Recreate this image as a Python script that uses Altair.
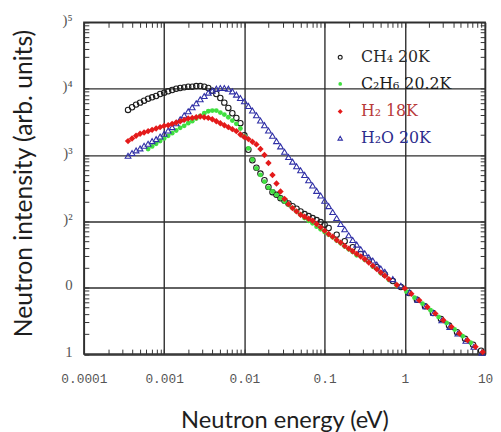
import altair as alt
import pandas as pd

# ---------------- data (log10 values) ----------------
# CH4 20K (open black circles)
ch4_log_energy = [-3.45, -3.40, -3.35, -3.30, -3.25, -3.20, -3.15, -3.10, -3.05, -3.00,
                  -2.95, -2.90, -2.85, -2.80, -2.75, -2.70, -2.65, -2.60, -2.55, -2.50,
                  -2.45, -2.40, -2.35, -2.30, -2.25, -2.20, -2.15, -2.10, -2.05, -2.00,
                  -1.95, -1.90, -1.85, -1.80, -1.75, -1.70, -1.65, -1.60, -1.55, -1.50,
                  -1.45, -1.40, -1.35, -1.30, -1.25, -1.20, -1.15, -1.10, -1.05, -1.00,
                  -0.95, -0.85, -0.75, -0.65, -0.55, -0.45, -0.35, -0.25, -0.15, -0.05,
                  0.05, 0.15, 0.25, 0.35, 0.45, 0.55, 0.65, 0.75, 0.85, 0.95]
ch4_log_intensity = [3.68, 3.72, 3.76, 3.79, 3.82, 3.85, 3.87, 3.89, 3.92, 3.94,
                     3.96, 3.98, 4.00, 4.01, 4.02, 4.03, 4.03, 4.04, 4.04, 4.03,
                     4.01, 3.97, 3.92, 3.86, 3.79, 3.71, 3.63, 3.56, 3.48, 3.30,
                     3.08, 2.92, 2.81, 2.72, 2.62, 2.52, 2.44, 2.40, 2.35, 2.31,
                     2.27, 2.23, 2.19, 2.15, 2.11, 2.08, 2.05, 2.02, 1.99, 1.95,
                     1.90, 1.80, 1.70, 1.61, 1.51, 1.41, 1.31, 1.20, 1.10, 1.01,
                     0.92, 0.82, 0.72, 0.62, 0.53, 0.43, 0.33, 0.23, 0.14, 0.05]

# C2H6 20.2K (small green dots)
c2h6_log_energy = [-3.20, -3.15, -3.10, -3.05, -3.00, -2.95, -2.90, -2.85, -2.80, -2.75,
                   -2.70, -2.65, -2.60, -2.55, -2.50, -2.45, -2.40, -2.35, -2.30, -2.25,
                   -2.20, -2.15, -2.10, -2.05, -2.00, -1.95, -1.90, -1.85, -1.80, -1.75,
                   -1.70, -1.65, -1.60, -1.55, -1.50, -1.45, -1.40, -1.35, -1.30, -1.25,
                   -1.20, -1.15, -1.10, -1.05, -1.00,
                   -0.95, -0.90, -0.85, -0.80, -0.75, -0.70, -0.65, -0.60, -0.50, -0.40,
                   -0.30, -0.20, -0.10, 0.02, 0.12, 0.22, 0.32, 0.42, 0.52, 0.62, 0.72, 0.82]
c2h6_log_intensity = [3.09, 3.13, 3.17, 3.21, 3.25, 3.29, 3.33, 3.37, 3.41, 3.44,
                      3.48, 3.51, 3.55, 3.59, 3.63, 3.66, 3.67, 3.67, 3.64, 3.61,
                      3.57, 3.52, 3.47, 3.40, 3.28, 3.10, 2.93, 2.80, 2.70, 2.60,
                      2.51, 2.45, 2.40, 2.35, 2.30, 2.25, 2.20, 2.15, 2.10, 2.05,
                      2.01, 1.97, 1.92, 1.88, 1.84,
                      1.80, 1.76, 1.71, 1.67, 1.62, 1.58, 1.54, 1.49, 1.42, 1.32,
                      1.22, 1.12, 1.03, 0.94, 0.85, 0.76, 0.66, 0.56, 0.47, 0.37, 0.27, 0.17]

# H2 18K (red diamonds)
h2_log_energy = [-3.45, -3.40, -3.35, -3.30, -3.25, -3.20, -3.15, -3.10, -3.05, -3.00,
                 -2.95, -2.90, -2.85, -2.80, -2.75, -2.70, -2.65, -2.60, -2.55, -2.50,
                 -2.45, -2.40, -2.35, -2.30, -2.25, -2.20, -2.15, -2.10, -2.05, -2.00,
                 -1.95, -1.90, -1.85, -1.80, -1.75, -1.70, -1.65, -1.60, -1.55, -1.50,
                 -1.45, -1.40, -1.35, -1.30, -1.25, -1.20, -1.15, -1.10, -1.05, -1.00,
                 -0.95, -0.90, -0.85, -0.80, -0.75, -0.70, -0.65, -0.60, -0.55, -0.50,
                 -0.45, -0.40, -0.35, -0.30, -0.25, -0.20, -0.10, 0.00, 0.08, 0.18,
                 0.28, 0.38, 0.48, 0.58, 0.68, 0.78, 0.88, 0.97]
h2_log_intensity = [3.21, 3.25, 3.29, 3.32, 3.34, 3.36, 3.38, 3.40, 3.42, 3.44,
                    3.45, 3.47, 3.49, 3.51, 3.53, 3.55, 3.56, 3.57, 3.58, 3.57,
                    3.56, 3.54, 3.51, 3.48, 3.45, 3.42, 3.39, 3.36, 3.31, 3.27,
                    3.24, 3.20, 3.16, 3.09, 3.00, 2.88, 2.70, 2.57, 2.45, 2.34,
                    2.26, 2.20, 2.15, 2.10, 2.07, 2.04, 2.01, 1.96, 1.91, 1.86,
                    1.81, 1.77, 1.72, 1.68, 1.63, 1.59, 1.55, 1.51, 1.47, 1.43,
                    1.38, 1.33, 1.28, 1.23, 1.18, 1.13, 1.04, 0.99, 0.91, 0.81,
                    0.71, 0.61, 0.51, 0.41, 0.31, 0.21, 0.11, 0.03]

# H2O 20K (open blue triangles)
h2o_log_energy = [-3.45, -3.40, -3.35, -3.30, -3.25, -3.20, -3.15, -3.10, -3.05, -3.00,
                  -2.95, -2.90, -2.85, -2.80, -2.75, -2.70, -2.65, -2.60, -2.55, -2.50,
                  -2.45, -2.40, -2.35, -2.30, -2.25, -2.20, -2.15, -2.10, -2.05, -2.00,
                  -1.95, -1.90, -1.85, -1.80, -1.75, -1.70, -1.65, -1.60, -1.55, -1.50,
                  -1.45, -1.40, -1.35, -1.30, -1.25, -1.20, -1.15, -1.10, -1.05, -1.00,
                  -0.95, -0.90, -0.85, -0.80, -0.75, -0.70, -0.65, -0.60, -0.55, -0.50,
                  -0.45, -0.40, -0.35, -0.30, -0.25,
                  -0.15, -0.05, 0.06, 0.16, 0.26, 0.36, 0.46, 0.56, 0.66, 0.76, 0.86, 0.96]
h2o_log_intensity = [2.99, 3.03, 3.07, 3.10, 3.14, 3.17, 3.21, 3.24, 3.28, 3.32,
                     3.37, 3.42, 3.48, 3.54, 3.60, 3.66, 3.72, 3.78, 3.84, 3.89,
                     3.94, 3.97, 4.00, 4.01, 4.01, 4.00, 3.96, 3.91, 3.86, 3.81,
                     3.74, 3.67, 3.60, 3.52, 3.45, 3.37, 3.29, 3.21, 3.13, 3.05,
                     2.97, 2.90, 2.83, 2.77, 2.70, 2.62, 2.54, 2.46, 2.39, 2.31,
                     2.23, 2.14, 2.05, 1.96, 1.88, 1.79, 1.72, 1.65, 1.58, 1.52,
                     1.46, 1.41, 1.35, 1.29, 1.24,
                     1.13, 1.03, 0.93, 0.82, 0.72, 0.62, 0.51, 0.41, 0.31, 0.20, 0.11, 0.02]

series_labels = ["CH\u2084 20K", "C\u2082H\u2086 20.2K", "H\u2082 18K", "H\u2082O 20K"]

x_major = [0.0001, 0.001, 0.01, 0.1, 1, 10]
y_major = [1, 10, 100, 1000, 10000, 100000]
x_minor = [m * 10.0 ** p for p in range(-4, 1) for m in range(1, 10)] + [10]
y_minor = [m * 10.0 ** p for p in range(0, 5) for m in range(1, 10)] + [100000]


def table(log_e, log_i, name):
    return pd.DataFrame({
        "energy": [10 ** v for v in log_e],
        "intensity": [10 ** v for v in log_i],
        "series": name,
    })


ch4 = table(ch4_log_energy, ch4_log_intensity, series_labels[0])
c2h6 = table(c2h6_log_energy, c2h6_log_intensity, series_labels[1])
h2 = table(h2_log_energy, h2_log_intensity, series_labels[2])
h2o = table(h2o_log_energy, h2o_log_intensity, series_labels[3])
all_df = pd.concat([ch4, c2h6, h2, h2o], ignore_index=True)

x_scale = alt.Scale(type="log", domain=[0.0001, 10], nice=False)
y_scale = alt.Scale(type="log", domain=[1, 100000], nice=False)

GRID = "#2e2e2e"
LABEL = "#555555"

x_label_expr = ("datum.value > 5 ? '10' : datum.value > 0.5 ? '1' : datum.value > 0.05 ? '0.1' : "
                "datum.value > 0.005 ? '0.01' : datum.value > 0.0005 ? '0.001' : '0.0001'")
y_label_expr = ("datum.value > 50000 ? ')\u2075' : datum.value > 5000 ? ')\u2074' : "
                "datum.value > 500 ? ')\u00b3' : datum.value > 50 ? ')\u00b2' : "
                "datum.value > 5 ? '0' : '1'")

major = alt.Chart(all_df).mark_point(opacity=0).encode(
    x=alt.X("energy:Q", scale=x_scale, axis=alt.Axis(
        orient="bottom", values=x_major, grid=True, gridColor=GRID, gridWidth=1.4,
        gridOpacity=1, domain=False, ticks=False, tickSize=0, labelFlush=False,
        labelOverlap=False, labelPadding=19, labelFont="Liberation Mono",
        labelFontSize=13, labelColor=LABEL, labelExpr=x_label_expr,
        title="Neutron energy (eV)", titleFont="Lato", titleFontSize=24,
        titleFontWeight="normal", titleColor="#1e1e1e", titleY=75,
        titleBaseline="alphabetic")),
    y=alt.Y("intensity:Q", scale=y_scale, axis=alt.Axis(
        orient="left", values=y_major, grid=True, gridColor=GRID, gridWidth=1.4,
        gridOpacity=1, domain=False, ticks=False, tickSize=0, labelOverlap=False,
        labelPadding=12, labelFont="Liberation Serif", labelFontSize=15,
        labelColor=LABEL, labelOffset=-3, labelExpr=y_label_expr,
        title="Neutron intensity (arb. units)", titleFont="Lato", titleFontSize=25,
        titleFontWeight="normal", titleColor="#1e1e1e", titleX=-61, titleY=163,
        titleBaseline="middle")),
)

minor_kw = dict(grid=False, domain=False, labels=False, ticks=True, tickSize=5,
                tickColor="#333333", tickWidth=1, offset=-5, title="")

minor_bl = alt.Chart(all_df).mark_point(opacity=0).encode(
    x=alt.X("energy:Q", scale=x_scale, axis=alt.Axis(orient="bottom", values=x_minor, **minor_kw)),
    y=alt.Y("intensity:Q", scale=y_scale, axis=alt.Axis(orient="left", values=y_minor, **minor_kw)),
)
minor_tr = alt.Chart(all_df).mark_point(opacity=0).encode(
    x=alt.X("energy:Q", scale=x_scale, axis=alt.Axis(orient="top", values=x_minor, **minor_kw)),
    y=alt.Y("intensity:Q", scale=y_scale, axis=alt.Axis(orient="right", values=y_minor, **minor_kw)),
)

STYLES = {
    series_labels[0]: dict(shape="circle", filled=False, color="#1c1c1c", size=30, strokeWidth=1.1),
    series_labels[1]: dict(shape="circle", filled=True, color="#40e040", size=24, strokeWidth=0),
    series_labels[2]: dict(shape="diamond", filled=True, color="#e41a1a", size=42, strokeWidth=0),
    series_labels[3]: dict(shape="triangle-up", filled=False, color="#2f2fa6", size=34, strokeWidth=1.1),
}


def series_layer(df, name):
    return alt.Chart(df).mark_point(opacity=1, **STYLES[name]).encode(
        x=alt.X("energy:Q", scale=x_scale, axis=None),
        y=alt.Y("intensity:Q", scale=y_scale, axis=None),
    )


layers = [major, minor_bl, minor_tr,
          series_layer(ch4, series_labels[0]),
          series_layer(c2h6, series_labels[1]),
          series_layer(h2o, series_labels[3]),
          series_layer(h2, series_labels[2])]

# manual legend (inside the plot, top right)
legend_text_colors = ["#2a2a2a", "#1a1a1a", "#b83a3a", "#2c2c8c"]
legend_rows_y = [35.5, 62.5, 90.5, 117.5]
LEGEND_SYMBOL = {
    series_labels[0]: dict(shape="circle", filled=False, color="#1c1c1c", size=16, strokeWidth=1.1),
    series_labels[1]: dict(shape="circle", filled=True, color="#40e040", size=14, strokeWidth=0),
    series_labels[2]: dict(shape="diamond", filled=True, color="#e41a1a", size=26, strokeWidth=0),
    series_labels[3]: dict(shape="triangle-up", filled=False, color="#2f2fa6", size=20, strokeWidth=1.1),
}
one = pd.DataFrame({"k": [0]})
for name, tcol, ry in zip(series_labels, legend_text_colors, legend_rows_y):
    layers.append(alt.Chart(one).mark_point(opacity=1, **LEGEND_SYMBOL[name]).encode(
        x=alt.value(260), y=alt.value(ry)))
    layers.append(alt.Chart(one).mark_text(
        align="left", baseline="middle", font="DejaVu Serif", fontSize=16,
        color=tcol, text=name).encode(x=alt.value(281), y=alt.value(ry)))

chart = alt.layer(*layers).resolve_axis(
    x="independent", y="independent"
).properties(
    width=407, height=336.5,
    padding={"left": 77, "top": 11.5, "right": 8, "bottom": 76},
    autosize=alt.AutoSizeParams(type="none"),
).configure_view(stroke="#333333", strokeWidth=1.5)

chart.save("out.html", embed_options={"renderer": "svg", "actions": False})
